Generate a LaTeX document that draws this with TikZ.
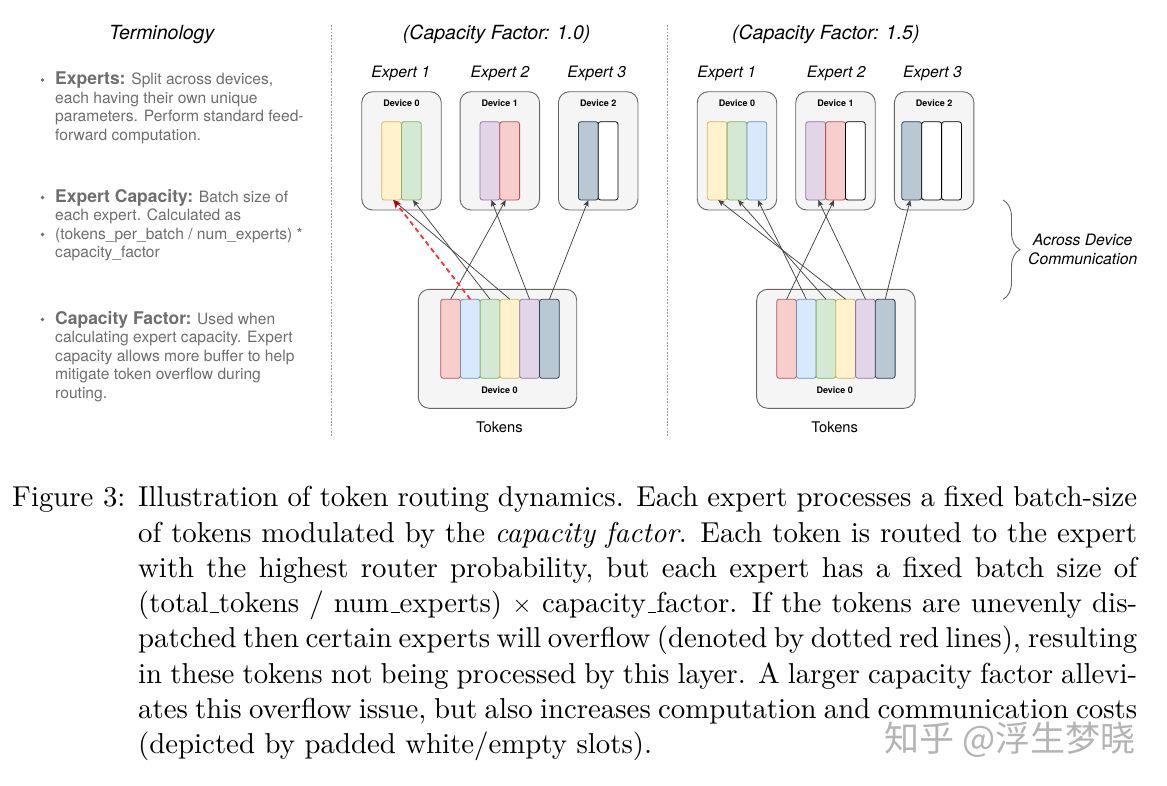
\documentclass[tikz,border=0pt]{standalone}
\usepackage{fontspec}
\newfontfamily\hv{TeX Gyre Heros}
\newfontfamily\capfont{lmroman10-regular.otf}[ItalicFont=lmroman10-italic.otf]
\newfontfamily\cjk{Noto Sans CJK SC}
\usetikzlibrary{arrows.meta,decorations.pathreplacing}
\definecolor{devfill}{HTML}{F5F5F5}
\definecolor{devdraw}{HTML}{666666}
\definecolor{yfill}{HTML}{FFF2CC}\definecolor{ydraw}{HTML}{D6B656}
\definecolor{gfill}{HTML}{D5E8D4}\definecolor{gdraw}{HTML}{82B366}
\definecolor{bfill}{HTML}{DAE8FC}\definecolor{bdraw}{HTML}{6C8EBF}
\definecolor{rfill}{HTML}{F8CECC}\definecolor{rdraw}{HTML}{B85450}
\definecolor{pfill}{HTML}{E1D5E7}\definecolor{pdraw}{HTML}{9673A6}
\definecolor{dfill}{HTML}{BAC8D3}\definecolor{ddraw}{HTML}{23445D}
\definecolor{arrowc}{HTML}{444444}
\definecolor{redc}{HTML}{FF3333}
\definecolor{redtip}{HTML}{B20000}
\definecolor{termgray}{HTML}{6E6E6E}
\definecolor{sepgray}{HTML}{999999}
\definecolor{wmgray}{HTML}{B4B4B4}
\newcommand\capline[1]{\hbox to\hsize{#1}}
\newcommand\us{\leavevmode\kern.06em\vbox{\hrule width.3em}}
\tikzset{
  devbox/.style={draw=devdraw, fill=devfill, rounded corners=11pt, line width=0.9pt,
    minimum width=79.5pt, minimum height=118.3pt, inner sep=0pt, outer sep=0pt},
  tokbox/.style={devbox, minimum width=158.4pt, minimum height=119pt},
  slot/.style={rounded corners=2.5pt, line width=0.8pt, minimum width=19.8pt,
    minimum height=78.3pt, inner sep=0pt, outer sep=0pt},
  tslot/.style={slot, minimum height=79pt},
  sy/.style={fill=yfill, draw=ydraw},
  sg/.style={fill=gfill, draw=gdraw},
  sb/.style={fill=bfill, draw=bdraw},
  sr/.style={fill=rfill, draw=rdraw},
  sp/.style={fill=pfill, draw=pdraw},
  sd/.style={fill=dfill, draw=ddraw},
  sw/.style={fill=white, draw=black},
  arr/.style={draw=arrowc, line width=0.75pt, -{Stealth[length=6.5pt,width=5.5pt,inset=1.6pt]}},
  ovf/.style={draw=redc, line width=1.8pt, dash pattern=on 5pt off 3.5pt,
    -{Stealth[length=8pt,width=7pt,inset=2pt,color=redtip]}},
  sepline/.style={draw=sepgray, line width=1.5pt, dash pattern=on 1.8pt off 1.5pt},
  devlab/.style={font=\hv\bfseries\fontsize{9}{10}\selectfont, anchor=base, inner sep=0pt},
  explab/.style={font=\hv\itshape\fontsize{15.7}{18}\selectfont, anchor=base, inner sep=0pt},
  titlelab/.style={font=\hv\itshape\fontsize{19.5}{22}\selectfont, anchor=base, inner sep=0pt},
  toklab/.style={font=\hv\fontsize{14.7}{17}\selectfont, anchor=base, inner sep=0pt},
  termline/.style={font=\hv\fontsize{15.6}{18}\selectfont, text=termgray, anchor=base west, inner sep=0pt},
  bul/.style={circle, fill=termgray, inner sep=0pt, minimum size=3.6pt},
  caplab/.style={font=\capfont\fontsize{28.8}{35.3}\selectfont, anchor=base west, inner sep=0pt},
}
\newcommand\hd[1]{{\bfseries\fontsize{17.5}{18}\selectfont #1}}
\begin{document}
\begin{tikzpicture}[x=1pt,y=-1pt]
\useasboundingbox[fill=white] (0,0) rectangle (1167,785);

% ---------- Terminology ----------
\node[titlelab] (term) at (161.7,39) {Terminology};
\node[bul] (bu1) at (42.5,80) {};
\node[termline] (a1) at (55,84.5) {\hd{Experts:} Split across devices,};
\node[termline] (a2) at (55,103) {each having their own unique};
\node[termline] (a3) at (55,121.5) {parameters. Perform standard feed-};
\node[termline] (a4) at (55,140) {forward computation.};
\node[bul] (bu2) at (42.5,197.5) {};
\node[termline] (b1) at (55,202) {\hd{Expert Capacity:} Batch size of};
\node[termline] (b2) at (55,220.5) {each expert. Calculated as};
\node[bul] (bu3) at (42.5,234.5) {};
\node[termline] (b3) at (55,239) {(tokens\_per\_batch / num\_experts) *};
\node[termline] (b4) at (55,257.5) {capacity\_factor};
\node[bul] (bu4) at (42.5,319.5) {};
\node[termline] (c1) at (55,324) {\hd{Capacity Factor:} Used when};
\node[termline] (c2) at (55,342.5) {calculating expert capacity. Expert};
\node[termline] (c3) at (55,361) {capacity allows more buffer to help};
\node[termline] (c4) at (55,379.5) {mitigate token overflow during};
\node[termline] (c5) at (55,398) {routing.};

% ---------- separators ----------
\coordinate (s1a) at (331.7,25); \coordinate (s1b) at (331.7,437);
\coordinate (s2a) at (667.3,25); \coordinate (s2b) at (667.3,437);
\draw[sepline] (s1a) -- (s1b);
\draw[sepline] (s2a) -- (s2b);

% ---------- Left panel (CF 1.0) ----------
\node[titlelab] (tl) at (496.7,39) {(Capacity Factor: 1.0)};
\node[explab] (le1) at (400.7,77) {Expert 1};
\node[explab] (le2) at (500,77) {Expert 2};
\node[explab] (le3) at (596.7,77) {Expert 3};
\node[devbox] (L0) at (401.5,150.85) {};
\node[devbox] (L1) at (499.8,150.85) {};
\node[devbox] (L2) at (598.2,150.85) {};
\node[devlab] (L0l) at (401.5,106) {Device 0};
\node[devlab] (L1l) at (499.8,106) {Device 1};
\node[devlab] (L2l) at (598.2,106) {Device 2};
\node[slot,sy] (L0a) at (391.6,160.85) {};
\node[slot,sg] (L0b) at (411.4,160.85) {};
\node[slot,sp] (L1a) at (489.9,160.85) {};
\node[slot,sr] (L1b) at (509.7,160.85) {};
\node[slot,sd] (L2a) at (588.3,160.85) {};
\node[slot,sw] (L2b) at (608.1,160.85) {};

\node[tokbox] (LT) at (497.5,348.8) {};
\node[tslot,sr] (Lt1) at (450.6,338.8) {};
\node[tslot,sb] (Lt2) at (470.3,338.8) {};
\node[tslot,sg] (Lt3) at (490.1,338.8) {};
\node[tslot,sy] (Lt4) at (509.9,338.8) {};
\node[tslot,sp] (Lt5) at (529.6,338.8) {};
\node[tslot,sd] (Lt6) at (549.4,338.8) {};
\node[devlab] (LTl) at (499.5,393.3) {Device 0};
\node[toklab] (LTt) at (499.3,432.7) {Tokens};

\draw[arr] (Lt1.north) -- ([xshift=-4pt]L1b.south);
\draw[arr] (Lt3.north) -- ([xshift=1.5pt]L0b.south);
\draw[arr] (Lt4.north) -- ([xshift=1.5pt]L0a.south);
\draw[arr] (Lt5.north) -- ([xshift=1.5pt]L1a.south);
\draw[arr] (Lt6.north) -- (L2a.south);
\draw[ovf] (Lt2.north) -- ([xshift=2pt]L0a.south);

% ---------- Right panel (CF 1.5) ----------
\node[titlelab] (tr) at (825.8,39) {(Capacity Factor: 1.5)};
\node[explab] (re1) at (726.7,77) {Expert 1};
\node[explab] (re2) at (836.3,77) {Expert 2};
\node[explab] (re3) at (932.5,77) {Expert 3};
\node[devbox] (R0) at (737,150.85) {};
\node[devbox] (R1) at (835.5,150.85) {};
\node[devbox] (R2) at (934.15,150.85) {};
\node[devlab] (R0l) at (737,106) {Device 0};
\node[devlab] (R1l) at (835.5,106) {Device 1};
\node[devlab] (R2l) at (934.15,106) {Device 2};
\node[slot,sy] (R0a) at (717.2,160.85) {};
\node[slot,sg] (R0b) at (737,160.85) {};
\node[slot,sb] (R0c) at (756.8,160.85) {};
\node[slot,sp] (R1a) at (815.7,160.85) {};
\node[slot,sr] (R1b) at (835.5,160.85) {};
\node[slot,sw] (R1c) at (855.3,160.85) {};
\node[slot,sd] (R2a) at (911.7,160.85) {};
\node[slot,sw] (R2b) at (931.6,160.85) {};
\node[slot,sw] (R2c) at (951.5,160.85) {};

\node[tokbox] (RT) at (835.85,348.8) {};
\node[tslot,sr] (Rt1) at (786.6,338.8) {};
\node[tslot,sb] (Rt2) at (806.3,338.8) {};
\node[tslot,sg] (Rt3) at (826,338.8) {};
\node[tslot,sy] (Rt4) at (845.7,338.8) {};
\node[tslot,sp] (Rt5) at (865.5,338.8) {};
\node[tslot,sd] (Rt6) at (885.2,338.8) {};
\node[devlab] (RTl) at (834.7,393.3) {Device 0};
\node[toklab] (RTt) at (834.7,432.7) {Tokens};

\draw[arr] (Rt1.north) -- ([xshift=-1.5pt]R1b.south);
\draw[arr] (Rt2.north) -- ([xshift=1pt]R0c.south);
\draw[arr] (Rt3.north) -- ([xshift=1pt]R0b.south);
\draw[arr] (Rt4.north) -- ([xshift=1pt]R0a.south);
\draw[arr] (Rt5.north) -- ([xshift=2.5pt]R1a.south);
\draw[arr] (Rt6.north) -- ([xshift=-1.5pt]R2a.south);

% ---------- brace ----------
\coordinate (br1) at (1003,200);
\coordinate (br2) at (1003,299.3);
\draw[devdraw, line width=0.9pt, decorate, decoration={brace, amplitude=17pt}] (br1) -- (br2);
\node[explab] (acr1) at (1082.7,245) {Across Device};
\node[explab] (acr2) at (1082.7,264) {Communication};

% ---------- caption ----------
\node[caplab] (figlab) at (12,506.7) {Figure 3:};
\node[caplab] (capt) at (138,506.7) {\vtop{\hsize=999pt
\capline{Illustration of token routing dynamics. Each expert processes a fixed batch-size}
\capline{of tokens modulated by the \textit{capacity factor}. Each token is routed to the expert}
\capline{with the highest router probability, but each expert has a fixed batch size of}
\capline{(total\us tokens / num\us experts) $\times$ capacity\us factor. If the tokens are unevenly dis-}
\capline{patched then certain experts will overflow (denoted by dotted red lines), resulting}
\capline{in these tokens not being processed by this layer. A larger capacity factor allevi-}
\capline{ates this overflow issue, but also increases computation and communication costs}
\capline{(depicted by padded white/empty slots).\hfil}}};

% ---------- watermark ----------
\node[font=\cjk\fontsize{35}{36}\selectfont, text=wmgray, anchor=base west, inner sep=0pt] (wm) at (884,751) {\raisebox{0pt}[24pt][3pt]{知乎 @浮生梦晓}};
\end{tikzpicture}
\end{document}
